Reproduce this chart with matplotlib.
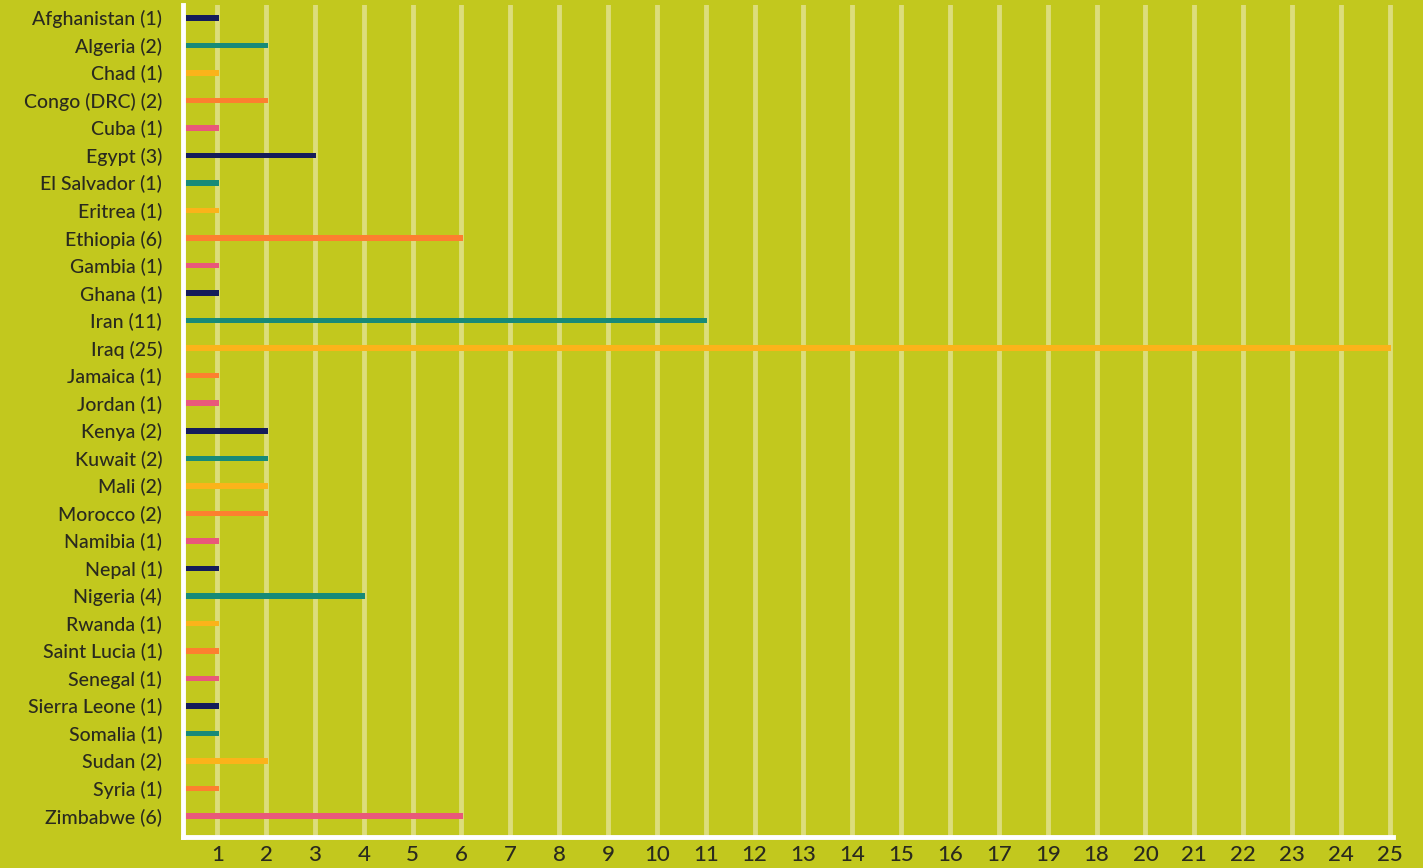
import matplotlib

matplotlib.use("Agg")
from matplotlib import pyplot as plt

countries = [
    "Afghanistan", "Algeria", "Chad", "Congo (DRC)", "Cuba", "Egypt",
    "El Salvador", "Eritrea", "Ethiopia", "Gambia", "Ghana", "Iran", "Iraq",
    "Jamaica", "Jordan", "Kenya", "Kuwait", "Mali", "Morocco", "Namibia",
    "Nepal", "Nigeria", "Rwanda", "Saint Lucia", "Senegal", "Sierra Leone",
    "Somalia", "Sudan", "Syria", "Zimbabwe",
]
counts = [1, 2, 1, 2, 1, 3, 1, 1, 6, 1, 1, 11, 25, 1, 1, 2, 2, 2, 2, 1,
          1, 4, 1, 1, 1, 1, 1, 2, 1, 6]
# tick labels as printed in the source (19 and 18 are swapped there)
tick_values = list(range(1, 26))
tick_labels = ["1", "2", "3", "4", "5", "6", "7", "8", "9", "10", "11", "12",
               "13", "14", "15", "16", "17", "19", "18", "20", "21", "22",
               "23", "24", "25"]

palette = ["#141c5a", "#178a78", "#fbb31a", "#fd7f2f", "#e9587a"]
bg = "#c2c81e"
grid_col = "#dcdd7c"
text_col = "#2a2a1e"
bar_start = 0.36

plt.rcParams["font.family"] = ["Lato", "DejaVu Sans"]

fig = plt.figure(figsize=(14.23, 8.68), dpi=100, facecolor=bg)
ax = fig.add_axes([0.1286, 0.036, 0.8504, 0.958], facecolor=bg)

ypos = list(range(len(countries)))
colors = [palette[i % len(palette)] for i in ypos]
widths = [c - bar_start + 0.03 for c in counts]
ax.barh(ypos, widths, left=bar_start, height=0.2, color=colors, zorder=3)

for v in tick_values:
    ax.axvline(v, color=grid_col, linewidth=3.5, zorder=1)

ax.set_xlim(0.3, 25.07)
ax.set_ylim(len(countries) - 0.25, -0.46)

ax.set_yticks(ypos)
ax.set_yticklabels([f"{c} ({n})" for c, n in zip(countries, counts)],
                   fontsize=14, color=text_col, fontweight="medium")
ax.set_xticks(tick_values)
ax.set_xticklabels(tick_labels, fontsize=16, color=text_col, fontweight="medium")
ax.tick_params(axis="both", length=0)
ax.tick_params(axis="y", pad=15)
ax.tick_params(axis="x", pad=6)

for side in ("top", "right"):
    ax.spines[side].set_visible(False)
for side in ("left", "bottom"):
    ax.spines[side].set_color("white")
    ax.spines[side].set_linewidth(3.5)

fig.savefig("out.png", dpi=100, facecolor=bg)
plt.close(fig)
